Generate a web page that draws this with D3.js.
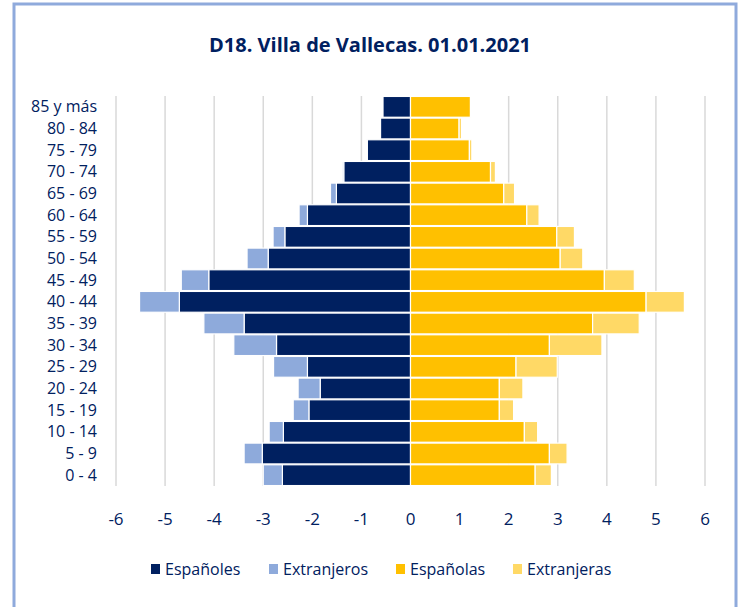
<!DOCTYPE html>
<html>
<head>
<meta charset="utf-8">
<script src="https://cdn.jsdelivr.net/npm/d3@7"></script>
<style>
  body { margin: 0; background: #fff; }
  svg text { font-family: "Liberation Sans Narrow", "Open Sans", sans-serif; fill: #002060; }
</style>
</head>
<body>
<div id="chart"></div>
<script>
// age groups, top to bottom
var ageGroups = ["85 y más", "80 - 84", "75 - 79", "70 - 74", "65 - 69", "60 - 64", "55 - 59",
  "50 - 54", "45 - 49", "40 - 44", "35 - 39", "30 - 34", "25 - 29", "20 - 24", "15 - 19",
  "10 - 14", "5 - 9", "0 - 4"];

// % of population
var espanoles   = [0.56, 0.61, 0.88, 1.36, 1.51, 2.10, 2.56, 2.90, 4.11, 4.71, 3.39, 2.73, 2.10, 1.84, 2.07, 2.59, 3.02, 2.61];
var extranjeros = [0.00, 0.00, 0.02, 0.03, 0.12, 0.17, 0.24, 0.43, 0.56, 0.81, 0.82, 0.87, 0.69, 0.45, 0.32, 0.29, 0.37, 0.39];
var espanolas   = [1.22, 0.99, 1.20, 1.63, 1.90, 2.37, 2.98, 3.05, 3.95, 4.80, 3.71, 2.83, 2.15, 1.81, 1.81, 2.32, 2.83, 2.54];
var extranjeras = [0.00, 0.05, 0.05, 0.10, 0.22, 0.25, 0.36, 0.46, 0.61, 0.78, 0.95, 1.07, 0.84, 0.48, 0.29, 0.27, 0.36, 0.33];

var xTicks = [-6, -5, -4, -3, -2, -1, 0, 1, 2, 3, 4, 5, 6];
var seriesNames = ["Españoles", "Extranjeros", "Españolas", "Extranjeras"];
var colors = ["#002060", "#8eaadb", "#ffc000", "#ffd966"];

var width = 740, height = 607;

var svg = d3.select("#chart").append("svg")
  .attr("width", width)
  .attr("height", height);

// outer frame
svg.append("rect")
  .attr("x", 14).attr("y", 4)
  .attr("width", 722).attr("height", 620)
  .attr("fill", "none")
  .attr("stroke", "#8faadc")
  .attr("stroke-width", 3);

svg.append("text")
  .attr("x", 370).attr("y", 52)
  .attr("text-anchor", "middle")
  .style("font-size", "20px")
  .style("font-weight", "bold")
  .text("D18. Villa de Vallecas. 01.01.2021");

var xScale = d3.scaleLinear().domain([-6, 6]).range([116, 705]);
var yScale = d3.scaleBand().domain(ageGroups).range([96, 486]).paddingInner(0.04).paddingOuter(0.02);

// gridlines
svg.append("g").selectAll("line")
  .data(xTicks)
  .enter().append("line")
  .attr("x1", function (d) { return xScale(d); })
  .attr("x2", function (d) { return xScale(d); })
  .attr("y1", 96).attr("y2", 486)
  .attr("stroke", "#d9d9d9")
  .attr("stroke-width", 1.5);

// build stacked segments
var segs = [];
ageGroups.forEach(function (g, i) {
  segs.push({ key: g, x0: -espanoles[i], x1: 0, s: 0 });
  segs.push({ key: g, x0: -espanoles[i] - extranjeros[i], x1: -espanoles[i], s: 1 });
  segs.push({ key: g, x0: 0, x1: espanolas[i], s: 2 });
  segs.push({ key: g, x0: espanolas[i], x1: espanolas[i] + extranjeras[i], s: 3 });
});

svg.append("g").selectAll("rect")
  .data(segs.filter(function (d) { return d.x1 - d.x0 > 0; }))
  .enter().append("rect")
  .attr("x", function (d) { return xScale(d.x0); })
  .attr("y", function (d) { return yScale(d.key); })
  .attr("width", function (d) { return xScale(d.x1) - xScale(d.x0); })
  .attr("height", yScale.bandwidth())
  .attr("fill", function (d) { return colors[d.s]; })
  .attr("stroke", "#fff")
  .attr("stroke-width", 1.2);

// y labels
svg.append("g").selectAll("text")
  .data(ageGroups)
  .enter().append("text")
  .attr("x", 97)
  .attr("y", function (d) { return yScale(d) + yScale.bandwidth() / 2; })
  .attr("dy", "0.35em")
  .attr("text-anchor", "end")
  .style("font-size", "16px")
  .text(function (d) { return d; });

// x tick labels
svg.append("g").selectAll("text")
  .data(xTicks)
  .enter().append("text")
  .attr("x", function (d) { return xScale(d); })
  .attr("y", 525)
  .attr("text-anchor", "middle")
  .style("font-size", "17px")
  .text(function (d) { return d; });

// legend
var legendX = [151, 269, 396, 513];
var lg = svg.append("g").selectAll("g")
  .data(seriesNames)
  .enter().append("g")
  .attr("transform", function (d, i) { return "translate(" + legendX[i] + ",569)"; });

lg.append("rect")
  .attr("x", 0).attr("y", -5)
  .attr("width", 9).attr("height", 10)
  .attr("fill", function (d, i) { return colors[i]; });

lg.append("text")
  .attr("x", 14).attr("dy", "0.35em")
  .style("font-size", "16px")
  .text(function (d) { return d; });
</script>
</body>
</html>
